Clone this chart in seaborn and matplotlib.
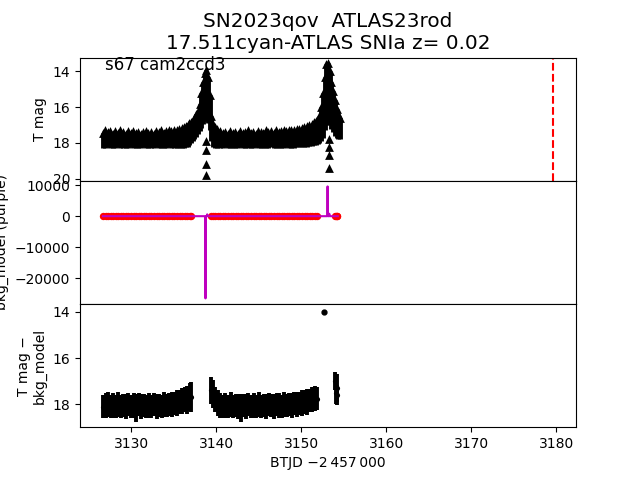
import matplotlib

matplotlib.use("Agg")

import matplotlib.pyplot as plt
import seaborn as sns


# top panel: observed T mag band (bright / faint edge per epoch)
t_top = [
    3126.65, 3126.95, 3127.25, 3127.55, 3127.85, 3128.15, 3128.45, 3128.75,
    3129.05, 3129.35, 3129.65, 3129.95, 3130.25, 3130.55, 3130.85, 3131.15,
    3131.45, 3131.75, 3132.05, 3132.35, 3132.65, 3132.95, 3133.25, 3133.55,
    3133.85, 3134.15, 3134.45, 3134.75, 3135.05, 3135.35, 3135.65, 3135.95,
    3136.25, 3136.45, 3136.65, 3136.85, 3137.05, 3137.25, 3137.45, 3137.65,
    3137.85, 3138.05, 3138.25, 3138.45, 3138.65, 3138.85, 3139.05, 3139.25,
    3139.45, 3139.65, 3139.85,
    3140.15, 3140.45, 3140.75, 3141.05, 3141.35, 3141.65, 3141.95, 3142.25,
    3142.55, 3142.85, 3143.15, 3143.45, 3143.75, 3144.05, 3144.35, 3144.65,
    3144.95, 3145.25, 3145.55, 3145.85, 3146.15, 3146.45, 3146.75, 3147.05,
    3147.35, 3147.65, 3147.95, 3148.25, 3148.55, 3148.85, 3149.15, 3149.45,
    3149.75, 3150.05, 3150.35, 3150.65, 3150.95, 3151.25, 3151.55,
    3151.75, 3151.95, 3152.15, 3152.35, 3152.55, 3152.75, 3152.95, 3153.15,
    3153.35, 3153.55, 3153.75, 3153.95, 3154.15, 3154.35, 3154.55,
]
mag_top_bright = [
    17.45, 17.3, 17.4, 17.35, 17.5, 17.35, 17.45, 17.3,
    17.4, 17.5, 17.35, 17.45, 17.35, 17.45, 17.4, 17.5,
    17.4, 17.35, 17.45, 17.4, 17.5, 17.35, 17.4, 17.3,
    17.45, 17.35, 17.3, 17.35, 17.25, 17.3, 17.2, 17.15,
    17.1, 17.05, 17.0, 16.9, 16.85, 16.75, 16.6, 16.4,
    16.2, 15.8, 15.2, 14.6, 14.1, 13.95, 14.3, 15.3,
    16.5, 16.95, 17.1,
    17.2, 17.35, 17.45, 17.4, 17.5, 17.35, 17.45, 17.4,
    17.5, 17.35, 17.45, 17.4, 17.3, 17.45, 17.4, 17.5,
    17.35, 17.4, 17.45, 17.3, 17.4, 17.35, 17.45, 17.3,
    17.4, 17.35, 17.3, 17.35, 17.25, 17.3, 17.25, 17.2,
    17.2, 17.15, 17.1, 17.05, 17.0, 16.95, 16.85,
    16.8, 16.7, 16.5, 16.0, 15.2, 14.3, 13.6, 13.55,
    14.0, 14.6, 15.1, 15.6, 16.1, 16.4, 16.6,
]
mag_top_faint = [
    18.3, 18.3, 18.25, 18.3, 18.3, 18.3, 18.25, 18.3,
    18.3, 18.3, 18.3, 18.25, 18.3, 18.3, 18.3, 18.3,
    18.25, 18.3, 18.3, 18.3, 18.3, 18.25, 18.3, 18.3,
    18.3, 18.3, 18.25, 18.3, 18.3, 18.3, 18.3, 18.3,
    18.3, 18.25, 18.2, 18.1, 18.0, 17.9, 17.8, 17.65,
    17.5, 17.35, 17.15, 16.95, 16.8, 16.75, 16.9, 17.3,
    17.9, 18.2, 18.3,
    18.3, 18.3, 18.3, 18.25, 18.3, 18.3, 18.3, 18.3,
    18.3, 18.25, 18.3, 18.3, 18.3, 18.3, 18.3, 18.25,
    18.3, 18.3, 18.3, 18.3, 18.3, 18.25, 18.3, 18.3,
    18.3, 18.3, 18.3, 18.25, 18.3, 18.3, 18.3, 18.25,
    18.25, 18.2, 18.2, 18.2, 18.15, 18.15, 18.1,
    18.1, 18.05, 18.0, 17.9, 17.7, 17.3, 17.0, 16.9,
    17.0, 17.2, 17.4, 17.6, 17.75, 17.8, 17.8,
]

# top panel: stacked triangles below the two peaks
t_limits = [3138.85, 3138.85, 3138.85, 3138.85, 3153.3, 3153.3, 3153.3, 3153.3]
mag_limits = [17.9, 18.4, 19.2, 19.8, 17.8, 18.2, 18.7, 19.4]

discovery_btjd = 3179.65

# middle panel: background model
t_bkg = [
    3126.7, 3137.2, 3138.7, 3138.75, 3138.8, 3138.9, 3138.95, 3139.0,
    3139.3, 3151.9, 3153.05, 3153.1, 3153.15, 3153.25, 3153.3, 3153.35, 3154.3,
]
bkg_model = [
    0, 0, 0, -26500, 0, 0, 600, 0,
    0, 0, 0, 9600, 0, 0, 800, 0, 0,
]

# bottom panel: T mag minus bkg_model
t_diff = [
    3126.7, 3127.0, 3127.3, 3127.6, 3127.9, 3128.2, 3128.5, 3128.8,
    3129.1, 3129.4, 3129.7, 3130.0, 3130.3, 3130.6, 3130.9, 3131.2,
    3131.5, 3131.8, 3132.1, 3132.4, 3132.7, 3133.0, 3133.3, 3133.6,
    3133.9, 3134.2, 3134.5, 3134.8, 3135.1, 3135.4, 3135.7, 3136.0,
    3136.3, 3136.6, 3136.9, 3137.1,
    3139.35, 3139.6, 3139.9, 3140.2, 3140.5, 3140.8, 3141.1, 3141.4,
    3141.7, 3142.0, 3142.3, 3142.6, 3142.9, 3143.2, 3143.5, 3143.8,
    3144.1, 3144.4, 3144.7, 3145.0, 3145.3, 3145.6, 3145.9, 3146.2,
    3146.5, 3146.8, 3147.1, 3147.4, 3147.7, 3148.0, 3148.3, 3148.6,
    3148.9, 3149.2, 3149.5, 3149.8, 3150.1, 3150.4, 3150.7, 3151.0,
    3151.3, 3151.6, 3151.85,
    3153.95, 3154.05, 3154.15, 3154.25,
]
mag_diff = [
    18.1, 18.05, 18.0, 18.1, 18.05, 18.1, 18.0, 18.1,
    18.05, 18.1, 18.0, 18.1, 18.05, 18.15, 18.0, 18.1,
    18.05, 18.1, 18.05, 18.1, 18.0, 18.1, 18.05, 18.1,
    18.0, 18.05, 18.0, 18.0, 17.95, 17.95, 17.9, 17.85,
    17.8, 17.8, 17.7, 17.7,
    17.4, 17.55, 17.8, 17.95, 18.05, 18.1, 18.05, 18.1,
    18.0, 18.1, 18.05, 18.1, 18.15, 18.05, 18.1, 18.0,
    18.1, 18.05, 18.1, 18.0, 18.1, 18.05, 18.1, 18.0,
    18.05, 18.1, 18.0, 18.05, 18.1, 18.0, 18.05, 18.0,
    18.05, 17.95, 18.0, 17.95, 17.95, 17.9, 17.9, 17.85,
    17.8, 17.75, 17.75,
    17.0, 17.5, 17.3, 17.6,
]
err_diff = [
    0.5, 0.55, 0.55, 0.5, 0.55, 0.5, 0.55, 0.5,
    0.5, 0.55, 0.5, 0.5, 0.55, 0.6, 0.5, 0.55,
    0.5, 0.5, 0.55, 0.5, 0.5, 0.55, 0.5, 0.5,
    0.55, 0.5, 0.5, 0.55, 0.5, 0.55, 0.5, 0.55,
    0.55, 0.6, 0.6, 0.65,
    0.6, 0.6, 0.55, 0.55, 0.55, 0.5, 0.55, 0.5,
    0.55, 0.5, 0.5, 0.55, 0.6, 0.5, 0.55, 0.5,
    0.5, 0.55, 0.5, 0.55, 0.5, 0.5, 0.55, 0.5,
    0.5, 0.55, 0.5, 0.55, 0.5, 0.55, 0.5, 0.5,
    0.55, 0.5, 0.55, 0.5, 0.55, 0.5, 0.55, 0.5,
    0.55, 0.55, 0.5,
    0.4, 0.5, 0.6, 0.45,
]
bkg_at_diff = [0.0] * len(t_diff)

t_outlier = [3152.7]
mag_outlier = [14.0]
err_outlier = [0.1]


fig, axes = plt.subplots(3, 1, sharex=True, figsize=(6.4, 4.8), dpi=100)
fig.subplots_adjust(hspace=0)
ax_top, ax_mid, ax_bot = axes

# top: T mag
ax_top.vlines(t_top, mag_top_bright, mag_top_faint, color="black", lw=3.5)
sns.scatterplot(x=t_top, y=mag_top_bright, marker="^", color="black",
                s=40, linewidth=0, ax=ax_top)
sns.scatterplot(x=t_limits, y=mag_limits, marker="^", color="black",
                s=40, linewidth=0, ax=ax_top)
ax_top.axvline(discovery_btjd, color="red", ls="--", lw=1.5)
ax_top.invert_yaxis()
ax_top.set_ylabel("T mag")
ax_top.text(0.05, 0.9, "s67 cam2ccd3", transform=ax_top.transAxes, fontsize=12)
ax_top.set_title("SN2023qov  ATLAS23rod\n17.511cyan-ATLAS SNIa z= 0.02",
                 fontsize="x-large")
ax_top.tick_params(axis="x", bottom=False)

# middle: bkg model
sns.scatterplot(x=t_diff, y=bkg_at_diff, color="red", s=28, linewidth=0,
                ax=ax_mid)
sns.lineplot(x=t_bkg, y=bkg_model, color="m", lw=1.5, estimator=None,
             sort=False, ax=ax_mid)
ax_mid.set_ylabel("bkg_model (purple)")
ax_mid.tick_params(axis="x", bottom=False)

# bottom: T mag - bkg_model
ax_bot.errorbar(t_diff, mag_diff, yerr=err_diff, fmt="none", ecolor="black",
                elinewidth=2.8)
sns.scatterplot(x=t_diff, y=mag_diff, color="black", s=14, linewidth=0,
                ax=ax_bot)
ax_bot.errorbar(t_outlier, mag_outlier, yerr=err_outlier, fmt="o",
                color="black", ms=3.5)
ax_bot.invert_yaxis()
ax_bot.set_ylabel("T mag \u2212\nbkg_model")
ax_bot.set_xlabel("BTJD \u22122\u2009457\u2009000")

fig.savefig("out.png", dpi=100)
